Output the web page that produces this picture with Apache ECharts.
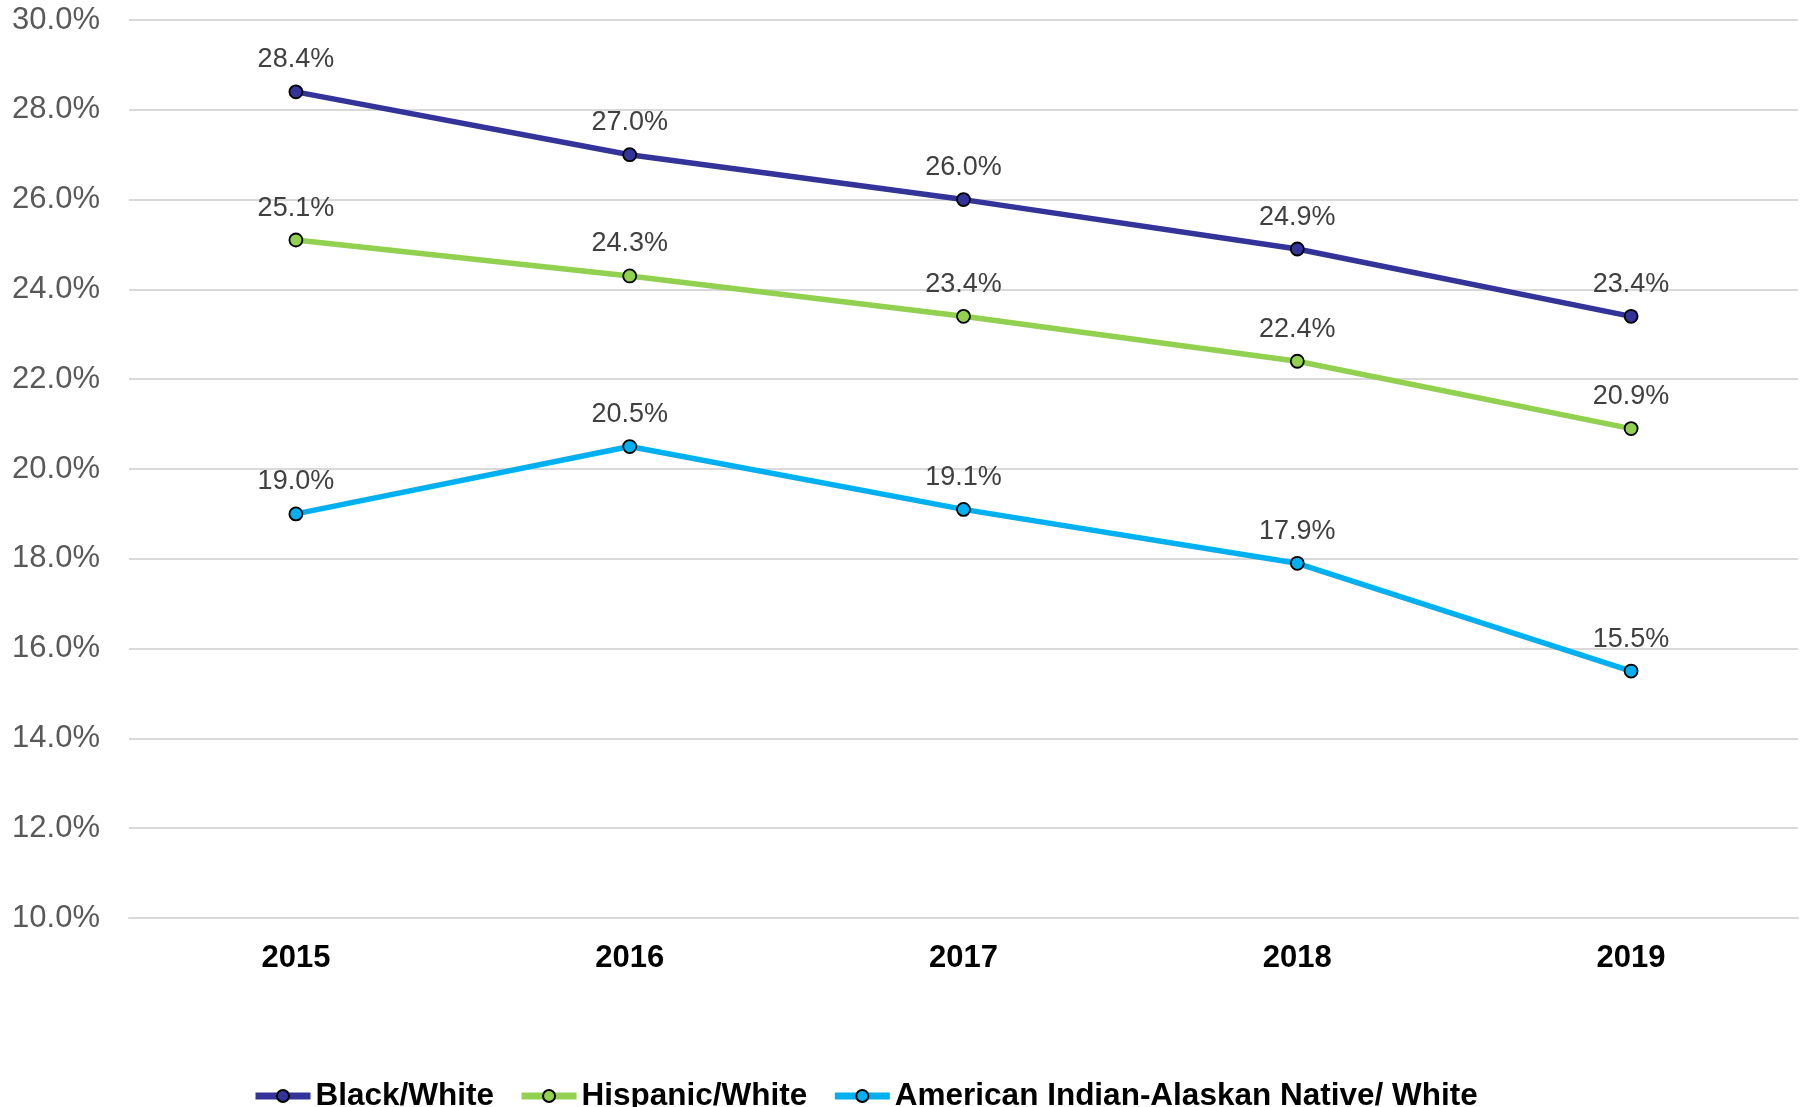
<!DOCTYPE html>
<html><head><meta charset="utf-8">
<script src="https://cdn.jsdelivr.net/npm/echarts@6/dist/echarts.min.js"></script>
<style>html,body{margin:0;padding:0;background:#fff}#c{width:1805px;height:1107px}</style>
</head><body><div id="c"></div>
<script>
const years = ['2015','2016','2017','2018','2019'];
const blackWhite = [28.4, 27.0, 26.0, 24.9, 23.4];
const hispanicWhite = [25.1, 24.3, 23.4, 22.4, 20.9];
const aianWhite = [19.0, 20.5, 19.1, 17.9, 15.5];
const seriesNames = ['Black/White','Hispanic/White','American Indian-Alaskan Native/ White'];
const colors = ['#333399','#92D050','#00B0F0'];

const chart = echarts.init(document.getElementById('c'));
function mk(name, data, color){
  return {
    name, type:'line', data, color,
    lineStyle:{width:5.5, color},
    symbol:'circle', symbolSize:13,
    itemStyle:{color, borderColor:'#000', borderWidth:1.8},
    label:{show:true, position:'top', distance:11, fontSize:27, color:'#404040',
      fontFamily:'Liberation Sans, Arial', formatter:p=>p.value.toFixed(1)+'%'},
    animation:false
  };
}
chart.setOption({
  animation:false,
  grid:{left:129, right:7, top:20, bottom:189, containLabel:false},
  legend:{
    left:247, top:1075, itemWidth:55, itemHeight:15, itemGap:24,
    lineStyle:{width:7},
    textStyle:{fontSize:31.5, fontWeight:'bold', color:'#000', fontFamily:'Liberation Sans, Arial'},
    data:seriesNames
  },
  xAxis:{type:'category', data:years, boundaryGap:true,
    axisLine:{show:true, lineStyle:{color:'#d9d9d9', width:2}},
    axisTick:{show:false},
    axisLabel:{fontSize:31, fontWeight:'bold', color:'#000', margin:25, fontFamily:'Liberation Sans, Arial'}},
  yAxis:{type:'value', min:10, max:30, interval:2,
    axisLine:{show:false}, axisTick:{show:false},
    splitLine:{lineStyle:{color:'#d9d9d9', width:2}},
    axisLabel:{fontSize:31, color:'#595959', margin:29, fontFamily:'Liberation Sans, Arial',
      formatter:v=>v.toFixed(1)+'%'}},
  series:[mk(seriesNames[0], blackWhite, colors[0]), mk(seriesNames[1], hispanicWhite, colors[1]), mk(seriesNames[2], aianWhite, colors[2])]
});
</script></body></html>
